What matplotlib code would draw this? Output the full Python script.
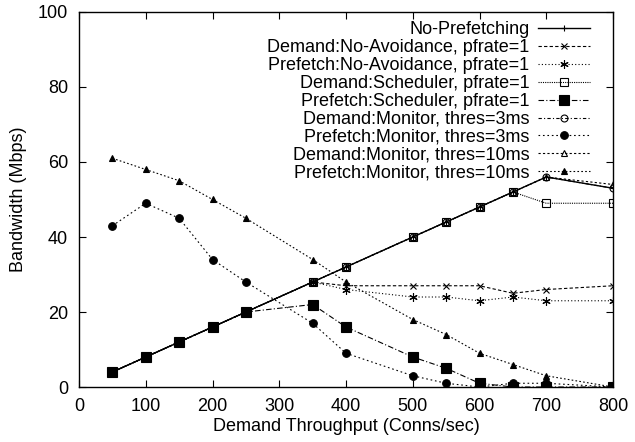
import numpy as np
import matplotlib
matplotlib.use("Agg")
import matplotlib.pyplot as plt

plt.rcParams['font.family'] = ['Liberation Sans', 'DejaVu Sans']

# demand throughput (conns/sec)
x = [50, 100, 150, 200, 250, 350, 400, 500, 550, 600, 650, 700, 800]

no_prefetch      = [4, 8, 12, 16, 20, 28, 32, 40, 44, 48, 52, 56, 53]
demand_noavoid   = [4, 8, 12, 16, 20, 28, 27, 27, 27, 27, 25, 26, 27]
prefetch_noavoid = [4, 8, 12, 16, 20, 28, 26, 24, 24, 23, 24, 23, 23]
demand_sched     = [4, 8, 12, 16, 20, 28, 32, 40, 44, 48, 52, 49, 49]
prefetch_sched   = [4, 8, 12, 16, 20, 22, 16, 8, 5, 1, 0, 0, 0]
demand_mon3      = [4, 8, 12, 16, 20, 28, 32, 40, 44, 48, 52, 56, 53]
prefetch_mon3    = [43, 49, 45, 34, 28, 17, 9, 3, 1, 0, 1, 1, 0]
demand_mon10     = [4, 8, 12, 16, 20, 28, 32, 40, 44, 48, 52, 56, 54]
prefetch_mon10   = [61, 58, 55, 50, 45, 34, 28, 18, 14, 9, 6, 3, 0]

labels = ["No-Prefetching",
          "Demand:No-Avoidance, pfrate=1",
          "Prefetch:No-Avoidance, pfrate=1",
          "Demand:Scheduler, pfrate=1",
          "Prefetch:Scheduler, pfrate=1",
          "Demand:Monitor, thres=3ms",
          "Prefetch:Monitor, thres=3ms",
          "Demand:Monitor, thres=10ms",
          "Prefetch:Monitor, thres=10ms"]

series = [no_prefetch, demand_noavoid, prefetch_noavoid, demand_sched,
          prefetch_sched, demand_mon3, prefetch_mon3, demand_mon10, prefetch_mon10]

# gnuplot-ish styles: (dashes, marker, facecolor, markersize)
styles = [
    (None, '+', 'k', 5),
    ((0, (3, 2)), 'x', 'k', 5),
    ((0, (1, 2)), (6, 2, 0), 'k', 6),
    ((0, (1, 1)), 's', 'none', 5.5),
    ((0, (5, 2, 1, 2)), 's', 'k', 6.5),
    ((0, (3, 2, 1, 2)), 'o', 'none', 5),
    ((0, (1.5, 2.5)), 'o', 'k', 5.5),
    ((0, (2, 2)), '^', 'none', 5),
    ((0, (1.5, 2)), '^', 'k', 4.5),
]

fig = plt.figure(figsize=(6.35, 4.42), dpi=100)
ax = fig.add_axes([0.1244, 0.1244, 0.8410, 0.8485])

for y, lab, (ls, mk, fc, ms) in zip(series, labels, styles):
    ax.plot(x, y, color='k', lw=1.0 if ls is None else 0.8,
            linestyle='-' if ls is None else ls,
            marker=mk, markerfacecolor=fc, markeredgecolor='k',
            markersize=ms, markeredgewidth=0.8, label=lab)

ax.set_xlim(0, 800)
ax.set_ylim(0, 100)
ax.set_xticks(np.arange(0, 801, 100))
ax.set_yticks(np.arange(0, 101, 20))
ax.tick_params(direction='in', top=True, right=True, length=5,
               labelsize=13, pad=8)
ax.set_xlabel("Demand Throughput (Conns/sec)", fontsize=13, labelpad=2)
ax.set_ylabel("Bandwidth (Mbps)", fontsize=13, labelpad=8)
for s in ax.spines.values():
    s.set_linewidth(1.0)

leg = ax.legend(loc='upper right', frameon=False, markerfirst=False,
                fontsize=13, handlelength=2.9, handletextpad=0.45,
                labelspacing=0.05, borderaxespad=0, borderpad=0,
                bbox_to_anchor=(0.957, 0.975))
for t in leg.get_texts():
    t.set_ha('right')
leg._legend_box.align = 'right'

fig.savefig("out.png", dpi=100)
